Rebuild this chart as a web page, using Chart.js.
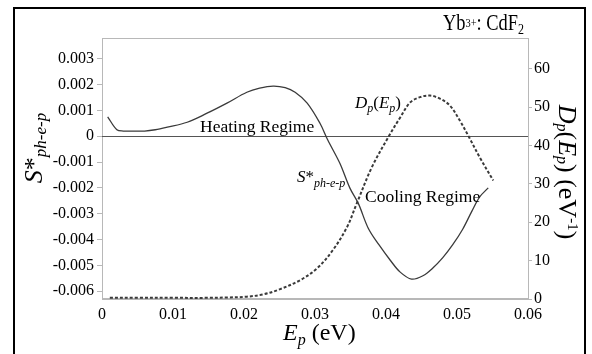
<!DOCTYPE html>
<html>
<head>
<meta charset="utf-8">
<script src="https://cdn.jsdelivr.net/npm/chart.js@4"></script>
<style>
  body { margin: 0; background: #fff; }
  canvas { display: block; }
</style>
</head>
<body>
<canvas id="heatChart" width="592" height="354"></canvas>
<script>
// tick labels
const energyTicks = [0, 0.01, 0.02, 0.03, 0.04, 0.05, 0.06];
const sTicks = [-0.006, -0.005, -0.004, -0.003, -0.002, -0.001, 0, 0.001, 0.002, 0.003];
const dosTicks = [0, 10, 20, 30, 40, 50, 60];

// S*ph-e-p (left axis)
const sEnergy = [0.0008, 0.0021, 0.003, 0.0045, 0.006, 0.0075, 0.0092, 0.012, 0.0148, 0.0176,
  0.0204, 0.0222, 0.0241, 0.0258, 0.0272, 0.0289, 0.0307, 0.0318, 0.0335, 0.0349,
  0.0361, 0.0375, 0.039, 0.0406, 0.042, 0.0436, 0.0452, 0.0466, 0.048, 0.0494,
  0.0508, 0.0521, 0.0532, 0.0544];
const sValues = [0.00075, 0.00025, 0.0002, 0.0002, 0.0002, 0.00025, 0.00035, 0.00054, 0.00089, 0.00128,
  0.0017, 0.00186, 0.00194, 0.00188, 0.0017, 0.00128, 0.0005, -0.00015, -0.00105, -0.002,
  -0.0026, -0.00356, -0.0042, -0.0048, -0.00526, -0.00553, -0.0054, -0.0051, -0.0047, -0.0042,
  -0.0036, -0.0029, -0.00235, -0.002];

// Dp(Ep) (right axis)
const dosEnergy = [0.0011, 0.005, 0.01, 0.015, 0.0176, 0.0204, 0.0227, 0.025, 0.0279, 0.0303,
  0.0325, 0.0345, 0.0359, 0.038, 0.0403, 0.042, 0.0434, 0.0448, 0.0462, 0.0476,
  0.049, 0.0504, 0.0518, 0.0532, 0.0551];
const dosValues = [0.3, 0.3, 0.3, 0.3, 0.4, 0.6, 1.2, 2.5, 4.9, 8.0,
  12.7, 18.7, 25, 34.3, 42.1, 47.3, 51.2, 52.6, 53, 52.2,
  50.4, 46.5, 41.8, 36.9, 30.9];

const SERIF = '"Liberation Serif", "Times New Roman", serif';

function font(size, italic) {
  return (italic ? 'italic ' : '') + size + 'px ' + SERIF;
}

// draws text pieces (with sub/superscripts) on one baseline
function drawRich(ctx, parts, x, y, opts) {
  opts = opts || {};
  ctx.save();
  ctx.translate(x, y);
  if (opts.rot) ctx.rotate(opts.rot);
  ctx.scale(opts.sx || 1, 1);
  ctx.fillStyle = '#000';
  ctx.textBaseline = 'alphabetic';
  ctx.textAlign = 'left';
  let total = 0;
  parts.forEach(p => {
    ctx.font = font(p.size, p.italic);
    p.w = ctx.measureText(p.t).width;
    total += p.w;
  });
  let cx = 0;
  if (opts.align === 'center') cx = -total / 2;
  if (opts.align === 'right') cx = -total;
  parts.forEach(p => {
    ctx.font = font(p.size, p.italic);
    ctx.fillText(p.t, cx, p.dy || 0);
    cx += p.w;
  });
  ctx.restore();
}

const decor = {
  id: 'decor',
  beforeDatasetsDraw(chart) {
    const ctx = chart.ctx;
    const a = chart.chartArea;
    ctx.save();
    ctx.strokeStyle = '#b8b8b8';
    ctx.lineWidth = 1;
    ctx.strokeRect(a.left + 0.5, a.top + 0.5, a.right - a.left, a.bottom - a.top);
    ctx.lineWidth = 2;
    ctx.beginPath();
    ctx.moveTo(a.left, a.bottom);
    ctx.lineTo(a.right, a.bottom);
    ctx.stroke();
    // zero line of the left axis
    const y0 = Math.round(chart.scales.yS.getPixelForValue(0)) + 0.5;
    ctx.strokeStyle = '#555';
    ctx.lineWidth = 1;
    ctx.beginPath();
    ctx.moveTo(a.left, y0);
    ctx.lineTo(a.right, y0);
    ctx.stroke();
    ctx.restore();
  },
  afterDraw(chart) {
    const ctx = chart.ctx;
    ctx.save();
    ctx.strokeStyle = '#000';
    ctx.lineWidth = 2;
    ctx.strokeRect(14, 8, 571, 360);
    ctx.restore();

    drawRich(ctx, [
      { t: 'Yb', size: 23 },
      { t: '3+', size: 13, dy: -3 },
      { t: ': CdF', size: 23 },
      { t: '2', size: 15, dy: 4 }
    ], 524, 30, { align: 'right', sx: 0.8 });

    drawRich(ctx, [
      { t: 'S', size: 26, italic: true },
      { t: '*', size: 26 },
      { t: 'ph-e-p', size: 17, italic: true, dy: 4 }
    ], 42, 148, { align: 'center', rot: -Math.PI / 2 });

    drawRich(ctx, [
      { t: 'D', size: 26, italic: true },
      { t: 'p', size: 16, italic: true, dy: 2 },
      { t: '(', size: 26 },
      { t: 'E', size: 26, italic: true },
      { t: 'p', size: 16, italic: true, dy: 2 },
      { t: ') (eV', size: 26 },
      { t: '-1', size: 15, dy: -9 },
      { t: ')', size: 26 }
    ], 559, 172, { align: 'center', rot: Math.PI / 2 });

    drawRich(ctx, [
      { t: 'E', size: 24, italic: true },
      { t: 'p', size: 16, italic: true, dy: 5 },
      { t: ' (eV)', size: 24 }
    ], 283, 340, {});

    drawRich(ctx, [{ t: 'Heating Regime', size: 17.5 }], 200, 132, {});
    drawRich(ctx, [{ t: 'Cooling Regime', size: 17.5 }], 365, 202, {});
    drawRich(ctx, [
      { t: 'D', size: 17, italic: true },
      { t: 'p', size: 12, italic: true, dy: 4 },
      { t: '(', size: 17 },
      { t: 'E', size: 17, italic: true },
      { t: 'p', size: 12, italic: true, dy: 4 },
      { t: ')', size: 17 }
    ], 355, 108, {});
    drawRich(ctx, [
      { t: 'S', size: 17, italic: true },
      { t: '*', size: 17 },
      { t: 'ph-e-p', size: 12, italic: true, dy: 5 }
    ], 297, 182, {});
  }
};

function fixedTicks(list) {
  return function (scale) {
    scale.ticks = list.map(v => ({ value: v }));
  };
}

const ctx = document.getElementById('heatChart').getContext('2d');
new Chart(ctx, {
  type: 'line',
  data: {
    datasets: [{
      label: 'S*ph-e-p',
      data: sEnergy.map((e, i) => ({ x: e, y: sValues[i] })),
      yAxisID: 'yS',
      borderColor: '#3a3a3a',
      borderWidth: 1.3,
      pointRadius: 0,
      tension: 0.35,
      fill: false
    }, {
      label: 'Dp(Ep)',
      data: dosEnergy.map((e, i) => ({ x: e, y: dosValues[i] })),
      yAxisID: 'yD',
      borderColor: '#3a3a3a',
      borderWidth: 2,
      borderDash: [3, 2],
      pointRadius: 0,
      tension: 0.35,
      fill: false
    }]
  },
  options: {
    responsive: false,
    animation: false,
    layout: { padding: { top: 38, left: 0, right: 0, bottom: 0 } },
    plugins: {
      legend: { display: false },
      tooltip: { enabled: false }
    },
    scales: {
      x: {
        type: 'linear',
        min: 0,
        max: 0.06,
        afterBuildTicks: fixedTicks(energyTicks),
        afterFit: s => { s.height = 55; },
        grid: { display: false, drawTicks: false },
        border: { display: false },
        ticks: {
          padding: 6,
          color: '#000',
          font: { family: SERIF, size: 16 },
          callback: v => String(v)
        }
      },
      yS: {
        type: 'linear',
        position: 'left',
        min: -0.0063,
        max: 0.0038,
        afterBuildTicks: fixedTicks(sTicks),
        afterFit: s => { s.width = 102; },
        grid: { drawOnChartArea: false, color: '#b8b8b8', tickLength: 5 },
        border: { display: false },
        ticks: {
          padding: 3,
          color: '#000',
          font: { family: SERIF, size: 16 },
          callback: v => String(v)
        }
      },
      yD: {
        type: 'linear',
        position: 'right',
        min: 0,
        max: 68,
        afterBuildTicks: fixedTicks(dosTicks),
        afterFit: s => { s.width = 64; },
        grid: { drawOnChartArea: false, color: '#b8b8b8', tickLength: 4 },
        border: { display: false },
        ticks: {
          padding: 2,
          color: '#000',
          font: { family: SERIF, size: 16 },
          callback: v => String(v)
        }
      }
    }
  },
  plugins: [decor]
});
</script>
</body>
</html>
